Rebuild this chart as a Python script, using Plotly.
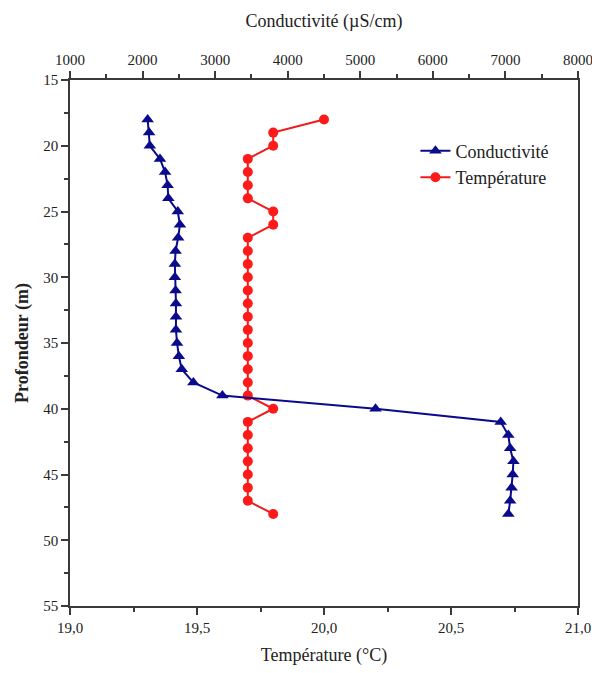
import plotly.graph_objects as go

depth_cond = [18, 19, 20, 21, 22, 23, 24, 25, 26, 27, 28, 29, 30, 31, 32, 33, 34, 35, 36, 37, 38, 39, 40, 41, 42, 43, 44, 45, 46, 47, 48]
conductivite = [2070, 2090, 2100, 2240, 2310, 2345, 2355, 2485, 2515, 2490, 2455, 2445, 2445, 2455, 2460, 2460, 2460, 2475, 2500, 2540, 2700, 3100, 5210, 6935, 7040, 7065, 7110, 7100, 7085, 7065, 7040]

depth_temp = [18, 19, 20, 21, 22, 23, 24, 25, 26, 27, 28, 29, 30, 31, 32, 33, 34, 35, 36, 37, 38, 39, 40, 41, 42, 43, 44, 45, 46, 47, 48]
temperature = [20.0, 19.8, 19.8, 19.7, 19.7, 19.7, 19.7, 19.8, 19.8, 19.7, 19.7, 19.7, 19.7, 19.7, 19.7, 19.7, 19.7, 19.7, 19.7, 19.7, 19.7, 19.7, 19.8, 19.7, 19.7, 19.7, 19.7, 19.7, 19.7, 19.7, 19.8]

FONT = "Liberation Serif"
AX = "#3a3a3a"

fig = go.Figure()
fig.add_trace(go.Scatter(
    x=conductivite, y=depth_cond, xaxis="x2", yaxis="y",
    mode="lines+markers", name="Conductivité",
    line=dict(color="#0a0a8c", width=2),
    marker=dict(symbol="triangle-up", size=11, color="#0a0a8c"),
))
fig.add_trace(go.Scatter(
    x=temperature, y=depth_temp, xaxis="x", yaxis="y",
    mode="lines+markers", name="Température",
    line=dict(color="#ee1c1c", width=2),
    marker=dict(symbol="circle", size=10, color="#ff1a1a"),
))

common = dict(showline=True, linecolor=AX, linewidth=1.5, ticks="outside",
              ticklen=7, tickwidth=1.5, tickcolor=AX, showgrid=False, zeroline=False,
              automargin=False, ticklabeloverflow="allow",
              tickfont=dict(family=FONT, size=15, color="#222"))

fig.update_layout(
    width=592, height=673,
    margin=dict(l=70, r=14, t=80, b=67),
    paper_bgcolor="white", plot_bgcolor="white",
    separators=",.",
    showlegend=True,
    legend=dict(x=0.68, y=0.9, xanchor="left", yanchor="top",
                font=dict(family=FONT, size=18, color="#222"),
                bgcolor="rgba(0,0,0,0)", tracegroupgap=4),
    xaxis=dict(range=[19.0, 21.0], dtick=0.5, tick0=19.0, tickformat=".1f",
               mirror=False,
               minor=dict(dtick=0.25, ticks="outside", ticklen=4, tickcolor=AX, tickwidth=1.5),
               title=dict(text="Température (°C)", font=dict(family=FONT, size=18, color="#222"), standoff=14),
               **common),
    xaxis2=dict(range=[1000, 8000], dtick=1000, tick0=1000, overlaying="x", side="top",
                anchor="y",
                minor=dict(dtick=500, ticks="outside", ticklen=4, tickcolor=AX, tickwidth=1.5),
                title=dict(text="Conductivité (µS/cm)", font=dict(family=FONT, size=18, color="#222"), standoff=20),
                **common),
    yaxis=dict(range=[55, 15], dtick=5, tick0=15, mirror=True,
               minor=dict(dtick=2.5, ticks="outside", ticklen=4, tickcolor=AX, tickwidth=1.5),
               title=dict(text="<b>Profondeur (m)</b>", font=dict(family=FONT, size=18, color="#222"), standoff=10),
               **common),
)

fig.write_html("out.html")
